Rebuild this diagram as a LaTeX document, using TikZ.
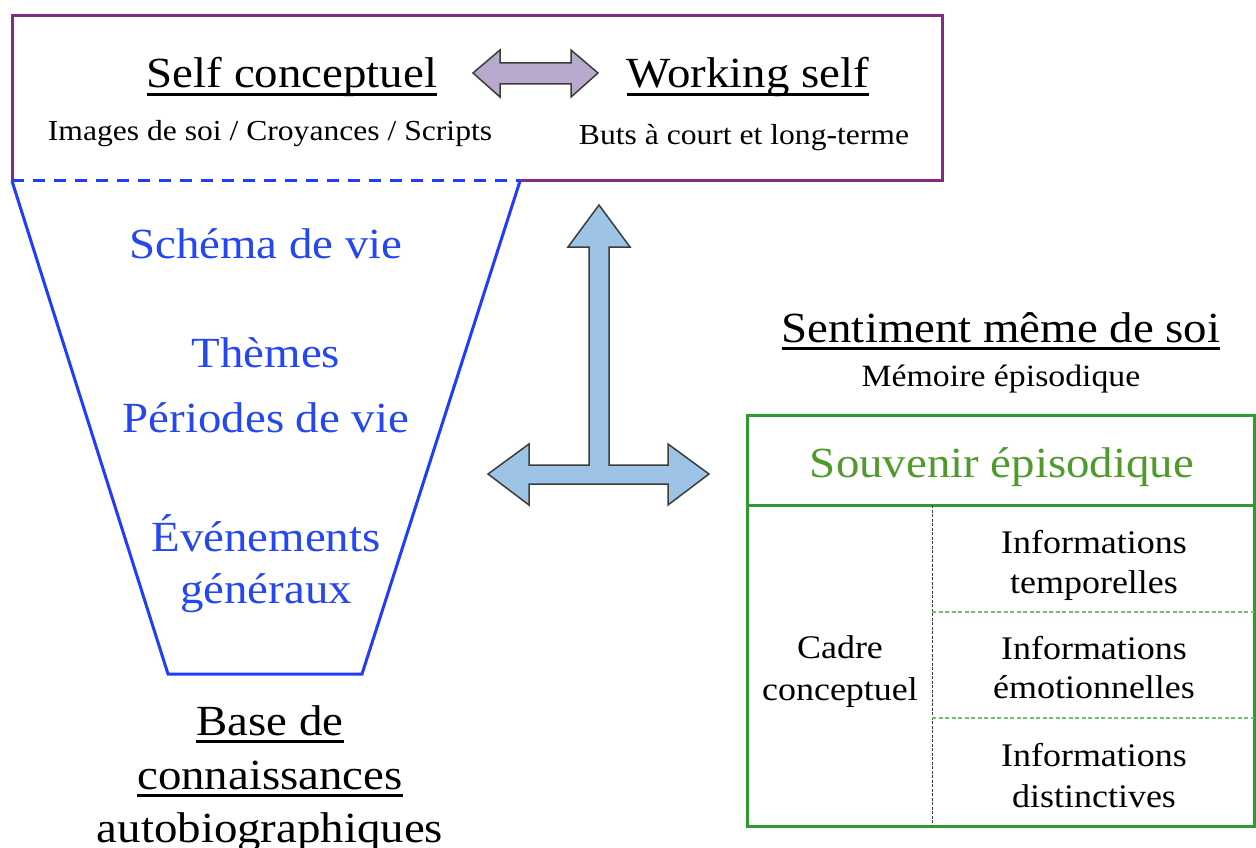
\documentclass[tikz,border=0pt]{standalone}
\usepackage{fontspec}
\setmainfont{Liberation Serif}[FakeStretch=1.09]
\definecolor{selfpurple}{HTML}{832A86}
\definecolor{arrowlilac}{HTML}{B9AACD}
\definecolor{basisblue}{HTML}{1F3CFF}
\definecolor{basistext}{HTML}{2447F2}
\definecolor{crossblue}{HTML}{9DC3E6}
\definecolor{outlinegray}{HTML}{3C3C3C}
\definecolor{tablegreen}{HTML}{2E9B2E}
\definecolor{titlegreen}{HTML}{4F9A2B}
\definecolor{sepgreen}{HTML}{6CC46C}
% underline drawn as a rule under the text box
\newcommand\undl[1]{\setbox0\hbox{#1}\rlap{\rule[-8pt]{\wd0}{2.6pt}}\box0}
\tikzset{
  every node/.style={inner sep=0pt, anchor=base},
  bigtxt/.style={font=\fontsize{43}{50}\selectfont},
  smalltxt/.style={font=\fontsize{29}{34}\selectfont},
  midtxt/.style={font=\fontsize{31}{36}\selectfont},
  celltxt/.style={font=\fontsize{33}{38}\selectfont},
  bluetxt/.style={bigtxt, text=basistext},
  fatarrow/.style={draw=outlinegray, line width=1.5pt, line join=miter},
}
\begin{document}
\begin{tikzpicture}[x=1pt, y=-1pt]
\useasboundingbox (0,0) rectangle (1256,848);

% --- Self box (top) ---
\draw[selfpurple, line width=3pt] (520,181) -- (942,181) -- (942,16) -- (12,16) -- (12,181);
\node[bigtxt] (selfc) at (292,88) {\undl{Self conceptuel}};
\node[bigtxt] (works) at (748,88) {\undl{Working self}};
\node[smalltxt] (images) at (270,141) {Images de soi / Croyances / Scripts};
\node[smalltxt] (buts) at (744,145) {Buts à court et long-terme};

% double arrow between the two selves
\coordinate (pl) at (473,73);
\coordinate (pr) at (598,73);
\draw[fatarrow, fill=arrowlilac]
  (pl) -- ++(27,-23) -- ++(0,13) -- ++(71,0) -- ++(0,-13) -- (pr)
  -- ++(-27,24) -- ++(0,-13) -- ++(-71,0) -- ++(0,13) -- cycle;

% --- Knowledge base (funnel) ---
\draw[basisblue, line width=3pt, line join=miter] (12,181) -- (168,674) -- (362,674) -- (520,181);
\draw[basisblue, line width=3pt, dash pattern=on 12pt off 9pt] (12,181) -- (520,181);
\node[bluetxt] (schema) at (266,258) {Schéma de vie};
\node[bluetxt] (themes) at (266,367) {Thèmes};
\node[bluetxt] (periodes) at (266,432) {Périodes de vie};
\node[bluetxt] (evts) at (266,551) {Événements};
\node[bluetxt] (gen) at (266,603) {généraux};
\node[bigtxt] (base1) at (270,735) {\undl{Base de}};
\node[bigtxt] (base2) at (270,789) {\undl{connaissances}};
\node[bigtxt] (base3) at (270,842) {autobiographiques};

% --- Three-way arrow ---
\draw[fatarrow, fill=crossblue]
  (599,205) -- (630,247) -- (609,247) -- (609,465) -- (668,465) -- (668,444)
  -- (709,474) -- (668,505) -- (668,484) -- (529,484) -- (529,505)
  -- (488,474) -- (529,444) -- (529,465) -- (589,465) -- (589,247)
  -- (568,247) -- cycle;

% --- Episodic memory ---
\node[bigtxt] (sent) at (1001,342) {\undl{Sentiment même de soi}};
\node[midtxt] (memo) at (1001,386) {Mémoire épisodique};

\draw[tablegreen, line width=3pt] (747,415) rectangle (1254,826);
\draw[tablegreen, line width=3pt] (747,505) -- (1254,505);
\draw[outlinegray, line width=0.8pt, dash pattern=on 3pt off 1.5pt] (932,505) -- (932,826);
\draw[sepgreen, line width=1.2pt, dash pattern=on 4pt off 2.5pt] (932,612) -- (1254,612);
\draw[sepgreen, line width=1.2pt, dash pattern=on 4pt off 2.5pt] (932,718) -- (1254,718);

\node[bigtxt, text=titlegreen] (souv) at (1002,477) {Souvenir épisodique};
\node[celltxt] (cadre1) at (840,658) {Cadre};
\node[celltxt] (cadre2) at (840,700) {conceptuel};
\node[celltxt] (temp1) at (1094,553) {Informations};
\node[celltxt] (temp2) at (1094,593) {temporelles};
\node[celltxt] (emo1) at (1094,659) {Informations};
\node[celltxt] (emo2) at (1094,698) {émotionnelles};
\node[celltxt] (dist1) at (1094,766) {Informations};
\node[celltxt] (dist2) at (1094,807) {distinctives};
\end{tikzpicture}
\end{document}
